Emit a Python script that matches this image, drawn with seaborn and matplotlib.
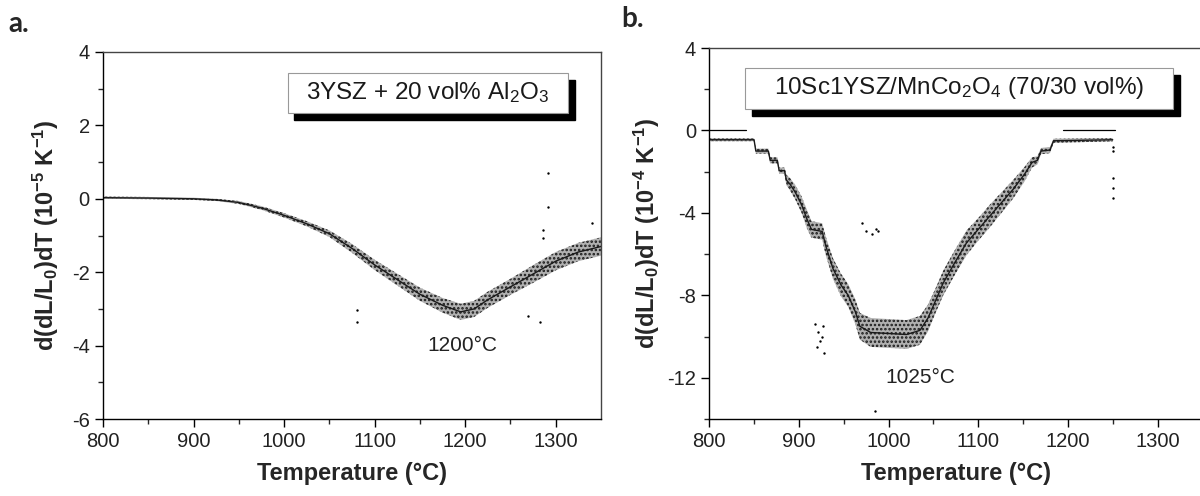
import numpy as np
import pandas as pd
import matplotlib
matplotlib.use('Agg')
import matplotlib.pyplot as plt
from matplotlib.patches import Rectangle
import seaborn as sns

# panel a: 3YSZ + 20 vol% Al2O3, band centre and half-spread
temp_a = [800, 850, 900, 925, 950, 975, 1000, 1025, 1050, 1075, 1100, 1125,
          1150, 1175, 1195, 1210, 1225, 1250, 1275, 1300, 1325, 1350]
rate_a = [0.03, 0.02, 0.0, -0.03, -0.1, -0.25, -0.45, -0.68, -0.95, -1.35, -1.8, -2.2,
          -2.6, -2.9, -3.08, -3.0, -2.75, -2.4, -2.05, -1.7, -1.45, -1.3]
spread_a = [0.03, 0.03, 0.03, 0.03, 0.04, 0.05, 0.06, 0.07, 0.09, 0.12, 0.14, 0.16,
            0.18, 0.2, 0.22, 0.22, 0.22, 0.22, 0.24, 0.25, 0.25, 0.25]
out_temp_a = [1081, 1081, 1292, 1292, 1286, 1286, 1283, 1269, 1340]
out_rate_a = [-3.03, -3.36, 0.69, -0.22, -0.86, -1.07, -3.35, -3.18, -0.67]

# panel b: 10Sc1YSZ/MnCo2O4 (70/30 vol%)
temp_b = [800, 850, 852, 866, 868, 876, 878, 884, 886, 890, 896, 903, 909, 914, 926,
          930, 938, 947, 955, 963, 968, 980, 1000, 1020, 1035, 1044, 1052, 1061, 1074,
          1087, 1100, 1113, 1126, 1139, 1152, 1160, 1166, 1170, 1180, 1184, 1250]
rate_b = [-0.45, -0.45, -1.0, -1.0, -1.45, -1.45, -1.95, -1.95, -2.4, -2.6, -3.0, -3.6,
          -4.3, -4.8, -4.9, -5.6, -6.7, -7.5, -8.0, -8.8, -9.5, -9.8, -9.85, -9.9, -9.7,
          -9.1, -8.3, -7.4, -6.4, -5.45, -4.8, -4.15, -3.5, -2.85, -2.1, -1.55, -1.45,
          -1.0, -0.95, -0.5, -0.45]
spread_b = [0.07, 0.07, 0.12, 0.12, 0.15, 0.15, 0.15, 0.15, 0.25, 0.3, 0.35, 0.4,
            0.45, 0.4, 0.4, 0.45, 0.5, 0.55, 0.55, 0.6, 0.65, 0.7, 0.7, 0.7, 0.7,
            0.65, 0.6, 0.6, 0.6, 0.6, 0.55, 0.55, 0.5, 0.45, 0.35, 0.25, 0.2,
            0.15, 0.15, 0.1, 0.08]
out_temp_b = [970, 975, 982, 986, 988, 918, 921, 924, 927, 920, 926, 928, 985,
              1250, 1250, 1250, 1250, 1250]
out_rate_b = [-4.5, -4.9, -5.0, -4.8, -4.9, -9.4, -9.8, -10.2, -9.5, -10.5, -10.0, -10.8, -13.6,
              -0.8, -1.0, -2.3, -2.8, -3.3]
zero_segments_b = [(800, 841), (1194, 1252)]

sns.set_style('ticks')
plt.rcParams['font.family'] = ['Liberation Sans', 'DejaVu Sans']
plt.rcParams['mathtext.default'] = 'regular'
plt.rcParams['axes.unicode_minus'] = False
plt.rcParams['axes.linewidth'] = 1.0
plt.rcParams['hatch.linewidth'] = 1.2

fig = plt.figure(figsize=(12, 4.96), dpi=100)
ax_a = fig.add_axes([0.0858, 0.1552, 0.415, 0.740])
ax_b = fig.add_axes([0.591, 0.1552, 0.411, 0.748])


def draw_band(ax, temps, rates, spreads):
    df = pd.DataFrame({'T': temps, 'r': rates, 's': spreads})
    ax.fill_between(df['T'], df['r'] - df['s'], df['r'] + df['s'],
                    facecolor='#b0b0b0', edgecolor='#1a1a1a', hatch='....', lw=0)
    sns.lineplot(data=df, x='T', y='r', ax=ax, color='#1a1a1a', lw=1.0, sort=False)


def label_box(ax, text, x0, y0, x1, y1):
    w, h = x1 - x0, y1 - y0
    dx, dy = 0.013, 0.018
    ax.add_patch(Rectangle((x0 + dx, y0 - dy), w, h, transform=ax.transAxes,
                           facecolor='black', edgecolor='black', zorder=4))
    ax.add_patch(Rectangle((x0, y0), w, h, transform=ax.transAxes,
                           facecolor='white', edgecolor='#999999', lw=0.8, zorder=5))
    ax.text((x0 + x1) / 2, (y0 + y1) / 2, text, transform=ax.transAxes,
            ha='center', va='center', fontsize=17.5, color='#1a1a1a', zorder=6)


# panel a
draw_band(ax_a, temp_a, rate_a, spread_a)
sns.scatterplot(x=out_temp_a, y=out_rate_a, ax=ax_a, s=3, color='black', linewidth=0)
ax_a.set_xlim(800, 1350)
ax_a.set_ylim(-6, 4)
ax_a.set_xticks([800, 900, 1000, 1100, 1200, 1300])
ax_a.set_xticks(np.arange(850, 1350, 100), minor=True)
ax_a.set_yticks([-6, -4, -2, 0, 2, 4])
ax_a.set_yticks([-5, -3, -1, 1, 3], minor=True)
ax_a.set_ylabel('d(dL/L$_0$)dT (10$^{-5}$ K$^{-1}$)', fontsize=17, fontweight='bold', labelpad=8)
label_box(ax_a, '3YSZ + 20 vol% Al$_2$O$_3$', 0.371, 0.834, 0.934, 0.943)
ax_a.text(1197, -4.0, '1200°C', ha='center', va='center', fontsize=15, color='#222222')

# panel b
draw_band(ax_b, temp_b, rate_b, spread_b)
sns.scatterplot(x=out_temp_b, y=out_rate_b, ax=ax_b, s=3, color='black', linewidth=0)
for t0, t1 in zero_segments_b:
    ax_b.plot([t0, t1], [0, 0], color='black', lw=0.9)
ax_b.set_xlim(800, 1350)
ax_b.set_ylim(-14, 4)
ax_b.set_xticks([800, 900, 1000, 1100, 1200, 1300])
ax_b.set_xticks(np.arange(850, 1350, 100), minor=True)
ax_b.set_yticks([-12, -8, -4, 0, 4])
ax_b.set_yticks([-14, -10, -6, -2, 2], minor=True)
ax_b.set_ylabel('d(dL/L$_0$)dT (10$^{-4}$ K$^{-1}$)', fontsize=17, fontweight='bold', labelpad=4)
label_box(ax_b, '10Sc1YSZ/MnCo$_2$O$_4$ (70/30 vol%)', 0.073, 0.836, 0.941, 0.946)
ax_b.text(1035, -12.0, '1025°C', ha='center', va='center', fontsize=15, color='#222222')

for ax in (ax_a, ax_b):
    ax.set_xlabel('Temperature (°C)', fontsize=17, fontweight='bold', labelpad=8)
    ax.tick_params(axis='both', which='major', direction='out', length=6, width=1,
                   labelsize=14.5, colors='black', labelcolor='#222222')
    ax.tick_params(axis='both', which='minor', direction='out', length=3.5, width=1)
    for side in ('top', 'right', 'left', 'bottom'):
        ax.spines[side].set_visible(True)
        ax.spines[side].set_color('black')
    ax.spines['top'].set_color('#444444')
    ax.spines['right'].set_color('#444444')

fig.text(0.007, 0.935, 'a.', fontsize=20, fontweight='bold', family=['Lato', 'DejaVu Sans'])
fig.text(0.518, 0.945, 'b.', fontsize=20, fontweight='bold', family=['Lato', 'DejaVu Sans'])

fig.savefig('out.png', dpi=100)
